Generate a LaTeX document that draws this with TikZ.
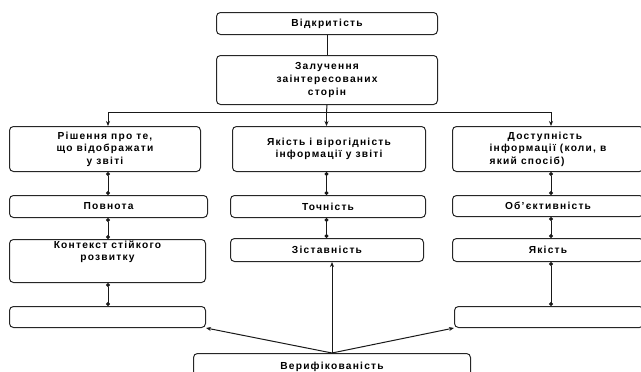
\documentclass[tikz,border=0pt]{standalone}
\usepackage{fontspec}
\setmainfont{Liberation Sans}[LetterSpace=12]
\usetikzlibrary{arrows.meta}
\begin{document}
\begin{tikzpicture}[x=1pt,y=-1pt,
  font=\fontsize{10.2}{12.5}\selectfont\bfseries,
  box/.style={draw=black!85,line width=1pt,rounded corners=4pt,anchor=north west,inner sep=0pt,align=center},
  conn/.style={line width=1pt,draw=black!90},
  arr/.style={conn,-{Stealth[length=5pt,width=4pt]}},
  dotl/.style={conn,{Circle[length=4pt]}-{Circle[length=4pt]}}]
\useasboundingbox (0,0) rectangle (641,372);
\clip (0,0) rectangle (641,372);
% boxes
\node[box,minimum width=221pt,minimum height=22pt] (open) at (216,12) {Відкритість};
\node[box,minimum width=221pt,minimum height=49pt] (inv) at (216,55) {Залучення\\заінтересованих\\сторін};
\node[box,minimum width=191pt,minimum height=45pt] (A1) at (9,126) {Рішення про те,\\що відображати\\у звіті};
\node[box,minimum width=193pt,minimum height=45pt] (A2) at (232,126) {Якість і вірогідність\\інформації у звіті};
\node[box,minimum width=191pt,minimum height=45pt,align=left] (A3) at (452,126) {\hspace*{18pt}Доступність\\інформації (коли, в\\який спосіб)};
\node[box,minimum width=198pt,minimum height=22pt] (B1) at (9,195) {Повнота};
\node[box,minimum width=195pt,minimum height=22pt] (B2) at (230,195) {Точність};
\node[box,minimum width=191pt,minimum height=21pt] (B3) at (452,195) {Об'єктивність};
\node[box,minimum width=196pt,minimum height=43pt,text depth=21pt] (C1) at (9,239) {Контекст стійкого\\розвитку};
\node[box,minimum width=193pt,minimum height=23pt] (C2) at (230,238) {Зіставність};
\node[box,minimum width=191pt,minimum height=23pt] (C3) at (452,238) {Якість};
\node[box,minimum width=196pt,minimum height=21pt] (D1) at (9,306) {};
\node[box,minimum width=189pt,minimum height=21pt] (D3) at (454,306) {};
\node[box,minimum width=277pt,minimum height=26pt] (V) at (193,353) {Верифікованість};
% hub coordinates
\coordinate (xl) at (108,112);
\coordinate (xm) at (326.5,112);
\coordinate (xr) at (551,112);
% connectors
\draw[conn] (open.south) -- (inv.north);
\draw[conn] (inv.south) -- (xm);
\draw[conn] (xl) -- (xr);
\draw[arr] (xl) -- (xl |- A1.north);
\draw[arr] (xm) -- (xm |- A2.north);
\draw[arr] (xr) -- (xr |- A3.north);
\draw[dotl] (xl |- A1.south) -- (xl |- B1.north);
\draw[dotl] (xl |- B1.south) -- (xl |- C1.north);
\draw[dotl] (xl |- C1.south) -- (xl |- D1.north);
\draw[dotl] (xm |- A2.south) -- (xm |- B2.north);
\draw[dotl] (xm |- B2.south) -- (xm |- C2.north);
\draw[dotl] (xr |- A3.south) -- (xr |- B3.north);
\draw[dotl] (xr |- B3.south) -- (xr |- C3.north);
\draw[dotl] (xr |- C3.south) -- (xr |- D3.north);
\draw[arr] (V.north) -- (V.north |- C2.south);
\draw[arr] (V.north) -- (D1.south east);
\draw[arr] (V.north) -- (D3.south west);
\end{tikzpicture}
\end{document}
